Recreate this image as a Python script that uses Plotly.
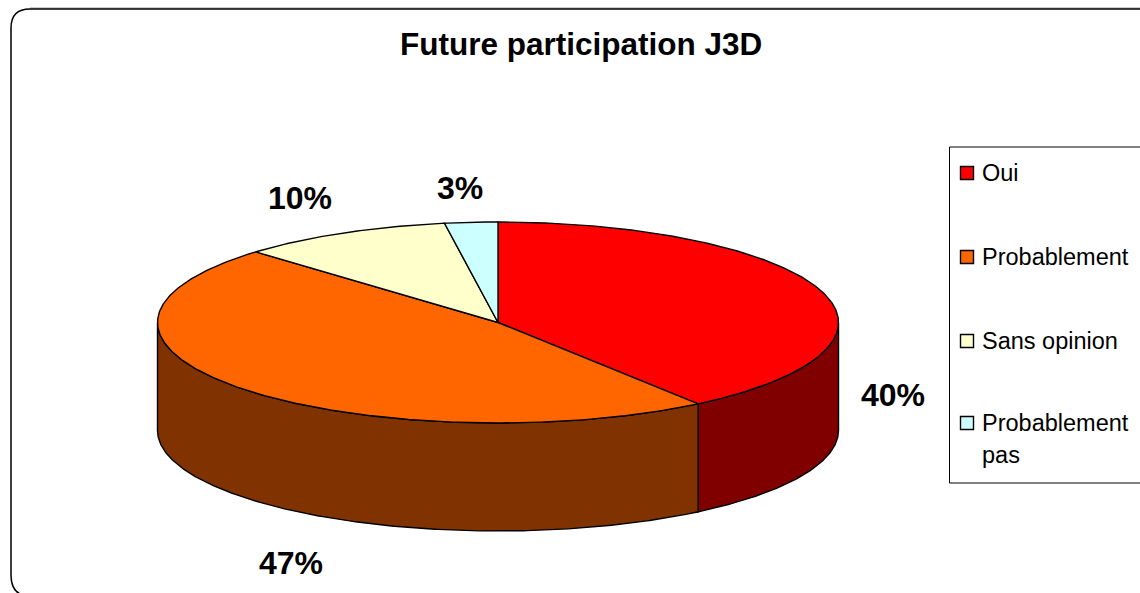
import numpy as np
import plotly.graph_objects as go

# slice shares (labels are rounded to whole percent)
categories = ["Oui", "Probablement", "Sans opinion", "Probablement<br>pas"]
shares = [40.0, 47.4, 10.09, 2.51]
top_colors = ["#FF0000", "#FF6600", "#FFFFCC", "#CCFFFF"]
side_colors = ["#800000", "#803300", "#808066", "#668080"]

# pie geometry, in picture pixels
CX, CY = 498, 322.5
RX, RY = 340.5, 100.5
DEPTH = 108
FONT = "Liberation Sans, Arial, sans-serif"

label_pos = [(893, 395), (291, 563), (300, 198), (460, 188)]
legend_y = [173, 257, 341, 423]


def rim(a0, a1, drop=0):
    # angles in degrees, clockwise from the back of the pie
    t = np.radians(np.linspace(a0, a1, max(int(abs(a1 - a0) * 2), 2)))
    return CX + RX * np.sin(t), CY - RY * np.cos(t) + drop


fig = go.Figure()

edges = np.cumsum([0] + shares) / sum(shares) * 360

# visible side walls first, only the front half of the cylinder shows
for i, color in enumerate(side_colors):
    a0, a1 = max(edges[i], 90), min(edges[i + 1], 270)
    if a0 >= a1:
        continue
    x0, y0 = rim(a0, a1)
    x1, y1 = rim(a1, a0, DEPTH)
    fig.add_scatter(
        x=np.r_[x0, x1, x0[0]],
        y=np.r_[y0, y1, y0[0]],
        mode="lines",
        fill="toself",
        fillcolor=color,
        line=dict(color="black", width=1.4),
        hoverinfo="skip",
    )

# top face wedges
for i, color in enumerate(top_colors):
    x0, y0 = rim(edges[i], edges[i + 1])
    fig.add_scatter(
        x=np.r_[CX, x0, CX],
        y=np.r_[CY, y0, CY],
        mode="lines",
        fill="toself",
        fillcolor=color,
        line=dict(color="black", width=1.4),
        name=categories[i],
        hoverinfo="skip",
    )

# legend swatches
fig.add_scatter(
    x=[967] * len(categories),
    y=legend_y,
    mode="markers",
    marker=dict(
        symbol="square",
        size=13,
        color=top_colors,
        line=dict(color="black", width=1.4),
    ),
    hoverinfo="skip",
)

for (x, y), share in zip(label_pos, shares):
    fig.add_annotation(
        x=x, y=y, text=f"<b>{share:.0f}%</b>", showarrow=False,
        font=dict(family=FONT, size=32, color="black"),
    )

for name, y in zip(categories, legend_y):
    first, _, second = name.partition("<br>")
    fig.add_annotation(
        x=980, y=y, text=first, showarrow=False, xanchor="left",
        font=dict(family=FONT, size=23.5, color="black"),
    )
    if second:
        fig.add_annotation(
            x=980, y=y + 32, text=second, showarrow=False, xanchor="left",
            font=dict(family=FONT, size=23.5, color="black"),
        )

fig.add_annotation(
    x=581, y=44, text="<b>Future participation J3D</b>", showarrow=False,
    font=dict(family=FONT, size=31.5, color="black"),
)

# chart frame, its faint grey top edge and the legend box
fig.add_shape(
    type="line", x0=30, y0=8, x1=1140, y1=8,
    line=dict(color="#999999", width=1),
    layer="below",
)
fig.add_shape(
    type="path",
    path="M 11 28 Q 11 9 30 9 L 1150 9 L 1150 596 L 30 596 Q 11 596 11 575 Z",
    line=dict(color="black", width=1.5),
    layer="below",
)
fig.add_shape(
    type="rect", x0=949.5, y0=147, x1=1150, y1=483,
    line=dict(color="black", width=1),
    layer="below",
)

fig.update_layout(
    width=1140,
    height=593,
    margin=dict(l=0, r=0, t=0, b=0),
    showlegend=False,
    paper_bgcolor="white",
    plot_bgcolor="white",
    xaxis=dict(range=[0, 1140], visible=False),
    yaxis=dict(range=[593, 0], visible=False),
)
# drop the browser's default page margin
fig.write_html(
    "out.html",
    config=dict(displayModeBar=False),
    post_script="document.body.style.margin='0';document.body.style.overflow='hidden';",
)
